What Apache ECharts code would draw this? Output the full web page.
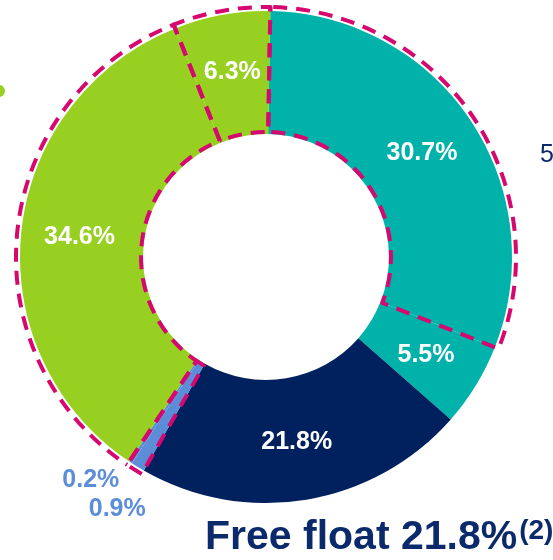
<!DOCTYPE html>
<html>
<head>
<meta charset="utf-8">
<script src="https://cdn.jsdelivr.net/npm/echarts@6/dist/echarts.min.js"></script>
<style>
  html, body { margin: 0; padding: 0; background: #fff; }
  #chart { width: 553px; height: 560px; }
</style>
</head>
<body>
<div id="chart"></div>
<script>
// shareholding split, clockwise from 12 o'clock
const segments = ['Seg A', 'Seg B', 'Free float', 'Seg D', 'Seg E', 'Seg F', 'Seg G']
const shares = [30.7, 5.5, 21.8, 0.9, 0.2, 34.6, 6.3]
// slices grouped for the dashed pink outline, and whether each group is outlined
const outlineGroups = [[0], [1], [2], [3, 4], [5], [6]]
const outlineOn = [true, false, false, true, true, true]
const freeFloat = 21.8

const sliceColors = ['#00B2A9', '#00B2A9', '#00215E', '#5B8DD9', '#5B8DD9', '#97D021', '#97D021']
const pink = '#D6086F'
const navy = '#0B2A6B'
const lightBlue = '#5B8DD9'
const FONT = 'Liberation Sans, Arial, sans-serif'

const CENTER = [266, 257]
const START = 89
const R_IN = 123, R_OUT = 246
const O_IN = 125, O_OUT = 250
const DASH = 14, GAP = 9, PERIOD = DASH + GAP

// small labels that sit outside the ring
const outsideShift = { 3: [-51, 92], 4: [-72, 67] }

// outline groups -> summed values and sweep angles
const total = shares.reduce((a, b) => a + b, 0)
const groupVals = outlineGroups.map(g => g.reduce((s, i) => s + shares[i], 0))
const groupAng = groupVals.map(v => v / total * Math.PI * 2)

// line up the dash phase on edges shared by two outlined groups,
// so each shared edge shows as one dashed line
const mod = (a, m) => ((a % m) + m) % m
const offsets = groupVals.map(() => 0)
const n = groupVals.length
let startIdx = outlineOn.findIndex((on, i) => on && !outlineOn[(i - 1 + n) % n])
for (let k = 1; k < n; k++) {
  const i = (startIdx + k) % n
  const p = (i - 1 + n) % n
  if (!outlineOn[i] || !outlineOn[p]) continue
  const tot = (O_OUT + O_IN) * groupAng[i] + 2 * (O_OUT - O_IN)
  offsets[i] = mod(DASH - offsets[p] - O_OUT * groupAng[p] - tot, PERIOD)
}

const chart = echarts.init(document.getElementById('chart'))

const option = {
  animation: false,
  series: [
    {
      type: 'pie',
      center: CENTER,
      radius: [R_IN, R_OUT],
      startAngle: START,
      clockwise: true,
      avoidLabelOverlap: false,
      itemStyle: { borderWidth: 0 },
      label: {
        show: true,
        position: 'inside',
        color: '#fff',
        fontFamily: FONT,
        fontWeight: 'bold',
        fontSize: 25,
        formatter: p => p.value.toFixed(1) + '%'
      },
      labelLine: { show: false },
      labelLayout: p => {
        const s = outsideShift[p.dataIndex]
        return s ? { dx: s[0], dy: s[1] } : {}
      },
      emphasis: { disabled: true },
      data: shares.map((v, i) => ({
        name: segments[i],
        value: v,
        itemStyle: { color: sliceColors[i] },
        label: outsideShift[i] ? { color: lightBlue } : {}
      }))
    },
    {
      type: 'pie',
      silent: true,
      center: CENTER,
      radius: [O_IN, O_OUT],
      startAngle: START,
      clockwise: true,
      label: { show: false },
      labelLine: { show: false },
      emphasis: { disabled: true },
      data: groupVals.map((v, i) => ({
        value: v,
        itemStyle: outlineOn[i]
          ? { color: 'rgba(0,0,0,0)', borderColor: pink, borderWidth: 4, borderType: [DASH, GAP], borderDashOffset: offsets[i] }
          : { color: 'rgba(0,0,0,0)', borderWidth: 0 }
      }))
    }
  ],
  graphic: [
    {
      type: 'circle',
      shape: { cx: -1, cy: 91, r: 6 },
      style: { fill: '#97D021' }
    },
    {
      type: 'text',
      left: 540,
      top: 143,
      style: { text: '5', fill: navy, font: '25px ' + FONT }
    },
    {
      type: 'text',
      left: 205,
      top: 517,
      style: {
        text: '{a|Free float ' + freeFloat.toFixed(1) + '%}{b|(2)}',
        rich: {
          a: { fill: navy, fontSize: 41, fontWeight: 'bold', fontFamily: FONT },
          b: { fill: navy, fontSize: 28, fontWeight: 'bold', fontFamily: FONT, verticalAlign: 'top', padding: [0, 0, 14, 2] }
        }
      }
    }
  ]
}

chart.setOption(option)
</script>
</body>
</html>
